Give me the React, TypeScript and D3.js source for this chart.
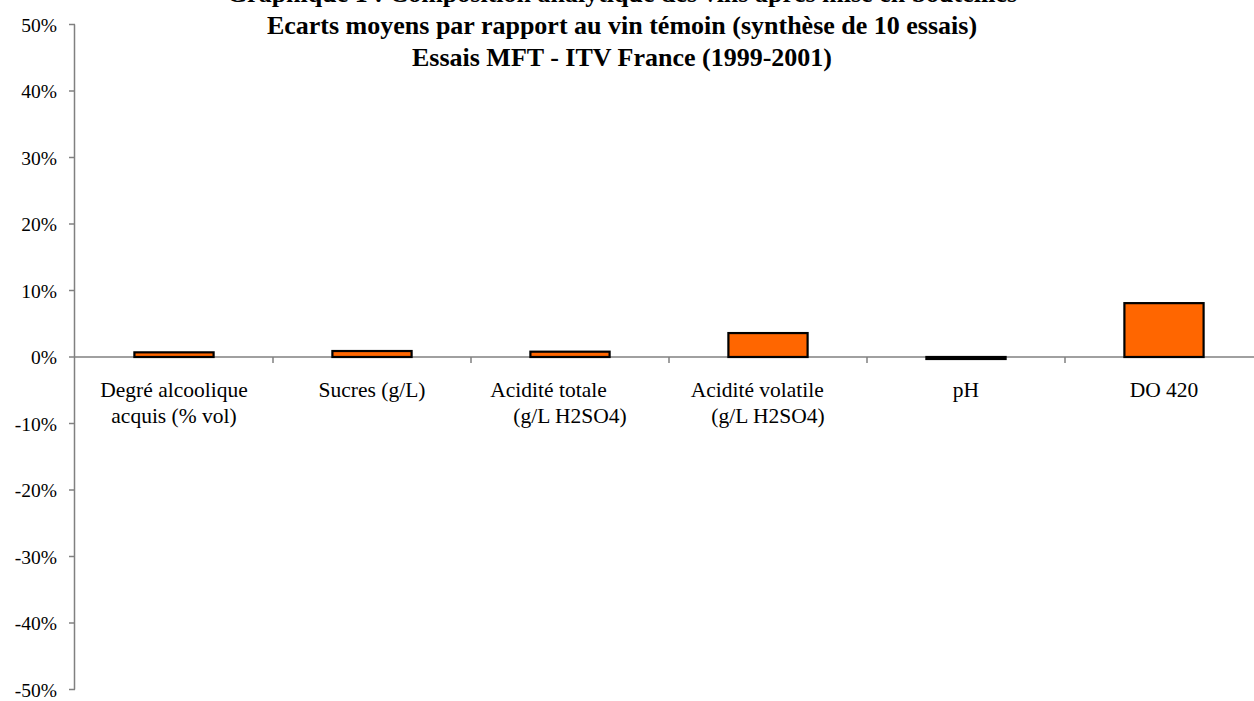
import React from "react";
import * as d3 from "d3";

// Mean deviations vs. control wine, in fraction (0.01 = 1%)
const categories = [
  "Degré alcoolique acquis (% vol)",
  "Sucres (g/L)",
  "Acidité totale (g/L H2SO4)",
  "Acidité volatile (g/L H2SO4)",
  "pH",
  "DO 420",
];
const labelLines: string[][] = [
  ["Degré alcoolique", "acquis (% vol)"],
  ["Sucres (g/L)"],
  ["Acidité totale        ", "(g/L H2SO4)"],
  ["Acidité volatile    ", "(g/L H2SO4)"],
  ["pH"],
  ["DO 420"],
];
const values = [0.007, 0.009, 0.008, 0.036, -0.003, 0.081];
const yTicks = [0.5, 0.4, 0.3, 0.2, 0.1, 0, -0.1, -0.2, -0.3, -0.4, -0.5];
const titleLines = [
  "Graphique 1 : Composition analytique des vins après mise en bouteilles",
  "Ecarts moyens par rapport au vin témoin (synthèse de 10 essais)",
  "Essais MFT - ITV France (1999-2001)",
];

const W = 1254;
const H = 701;
const FONT = "'Liberation Serif', 'Times New Roman', serif";

// percent labels with a plain hyphen for negatives
const pct = (v: number) => `${Math.round(v * 100) < 0 ? "-" : ""}${Math.abs(Math.round(v * 100))}%`;

export default function App() {
  const plotLeft = 75;
  const band = 198;
  const x = d3
    .scaleBand<string>()
    .domain(categories)
    .range([plotLeft, plotLeft + band * categories.length])
    .paddingInner(0)
    .paddingOuter(0);
  const y = d3.scaleLinear().domain([-0.5, 0.5]).range([689.5, 24.5]);
  const y0 = y(0);
  const barW = x.bandwidth() * 0.4;
  const axisColor = "#808080";

  return (
    <div style={{ position: "absolute", left: 0, top: 0 }}>
      <svg width={W} height={H} style={{ display: "block", background: "#fff" }}>
        {/* title */}
        {titleLines.map((t, i) => (
          <text
            key={t}
            x={622}
            y={2 + i * 32}
            textAnchor="middle"
            fontFamily={FONT}
            fontWeight="bold"
            fontSize={26}
            fill="#000"
          >
            {t}
          </text>
        ))}

        {/* y axis */}
        <line x1={plotLeft - 0.5} x2={plotLeft - 0.5} y1={y(0.5)} y2={y(-0.5)} stroke={axisColor} strokeWidth={1.5} />
        {yTicks.map((t) => (
          <g key={t}>
            <line x1={plotLeft - 6} x2={plotLeft} y1={y(t)} y2={y(t)} stroke={axisColor} strokeWidth={1.5} />
            <text
              x={57}
              y={y(t) + 7}
              textAnchor="end"
              fontFamily={FONT}
              fontSize={19.5}
              fill="#000"
            >
              {pct(t)}
            </text>
          </g>
        ))}

        {/* x axis at zero */}
        <line x1={plotLeft} x2={W} y1={y0} y2={y0} stroke={axisColor} strokeWidth={1.5} />
        {categories.map((c) => (
          <line
            key={"tick" + c}
            x1={(x(c) as number) + band}
            x2={(x(c) as number) + band}
            y1={y0}
            y2={y0 + 6}
            stroke={axisColor}
            strokeWidth={1.5}
          />
        ))}

        {/* bars */}
        {categories.map((c, i) => {
          const v = values[i];
          const cx = (x(c) as number) + x.bandwidth() / 2;
          const top = Math.min(y(v), y0);
          const h = Math.abs(y(v) - y0);
          return (
            <rect
              key={"bar" + c}
              x={cx - barW / 2}
              y={top}
              width={barW}
              height={h}
              fill="#FF6600"
              stroke="#000"
              strokeWidth={2.2}
            />
          );
        })}

        {/* category labels */}
        {categories.map((c, i) => {
          const cx = (x(c) as number) + x.bandwidth() / 2;
          return (
            <text
              key={"lab" + c}
              textAnchor="middle"
              fontFamily={FONT}
              fontSize={21.5}
              fill="#000"
              style={{ whiteSpace: "pre" }}
            >
              {labelLines[i].map((l, j) => (
                <tspan key={j} x={cx} y={397 + j * 26}>
                  {l}
                </tspan>
              ))}
            </text>
          );
        })}
      </svg>
    </div>
  );
}
